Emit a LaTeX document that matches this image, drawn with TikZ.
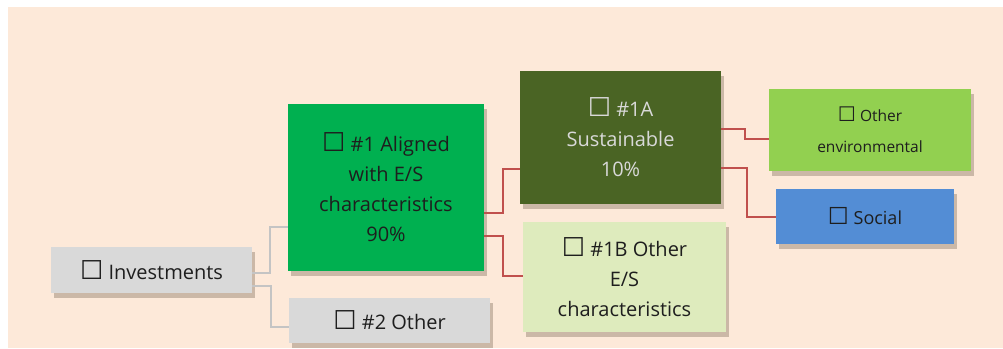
\documentclass[tikz,border=0pt]{standalone}
\usepackage{fontspec}
\setmainfont{Open Sans}
\newfontfamily\boxglyph{DejaVu Sans}[Scale=1.3]
\usetikzlibrary{shadows}
\definecolor{peach}{HTML}{FDE9D9}
\definecolor{boxgrey}{HTML}{D9D9D9}
\definecolor{alignedgreen}{HTML}{00B050}
\definecolor{olivedark}{HTML}{4A6424}
\definecolor{olivelight}{HTML}{DEEBBD}
\definecolor{limegreen}{HTML}{92D050}
\definecolor{socialblue}{HTML}{538DD5}
\definecolor{linered}{HTML}{C0504D}
\definecolor{linegrey}{HTML}{C4C4C4}
\definecolor{textdark}{HTML}{1E1E1E}
\newcommand{\cbox}{{\boxglyph ☐}}

\begin{document}
\begin{tikzpicture}[x=1pt, y=-1pt,
    box/.style={rectangle, align=center, inner sep=2pt, text=textdark,
      font=\fontsize{20}{30}\selectfont,
      drop shadow={shadow xshift=3pt, shadow yshift=-5pt, opacity=0.25, fill=black!70!brown}},
    greyline/.style={draw=linegrey, line width=2pt},
    redline/.style={draw=linered, line width=2pt}]
    \useasboundingbox (0,0) rectangle (1003,348);
    \fill[peach] (8,7) rectangle (1003,348);
    \node[box, fill=boxgrey, minimum width=201pt, minimum height=46pt] (invest) at (151.5,270) {\cbox\ Investments};
    \node[box, fill=alignedgreen, minimum width=196pt, minimum height=167pt] (aligned) at (386,187.5) {\cbox\ \#1 Aligned\\with E/S\\characteristics\\90\%};
    \node[box, fill=boxgrey, minimum width=201pt, minimum height=45pt] (other2) at (389.5,320.5) {\cbox\ \#2 Other};
    \node[box, fill=olivedark, text=boxgrey, minimum width=201pt, minimum height=133pt] (sust) at (620.5,137.5) {\cbox\ \#1A\\Sustainable\\10\%};
    \node[box, fill=olivelight, minimum width=203pt, minimum height=110pt] (other1b) at (624.5,277) {\cbox\ \#1B Other\\E/S\\characteristics};
    \node[box, fill=limegreen, minimum width=202pt, minimum height=82pt, font=\fontsize{15.5}{31}\selectfont] (env) at (870,130) {\cbox\ Other\\environmental};
    \node[box, fill=socialblue, minimum width=178pt, minimum height=55pt, font=\fontsize{18}{24}\selectfont] (social) at (865,216.5) {\cbox\ Social};
    \draw[greyline] ([yshift=-3pt]invest.east) -- ++(18,0) |- ([yshift=-39.5pt]aligned.west);
    \draw[greyline] ([yshift=-16pt]invest.east) -- ++(19,0) |- ([yshift=-6.5pt]other2.west);
    \draw[redline] ([yshift=-25.5pt]aligned.east) -- ++(19,0) |- ([yshift=-31.5pt]sust.west);
    \draw[redline] ([yshift=-48.5pt]aligned.east) -- ++(19,0) |- ([yshift=1pt]other1b.west);
    \draw[redline] ([yshift=8.5pt]sust.east) -- ++(24,0) |- ([yshift=-9pt]env.west);
    \draw[redline] ([yshift=-30.5pt]sust.east) -- ++(26,0) |- (social.west);
\end{tikzpicture}
\end{document}
